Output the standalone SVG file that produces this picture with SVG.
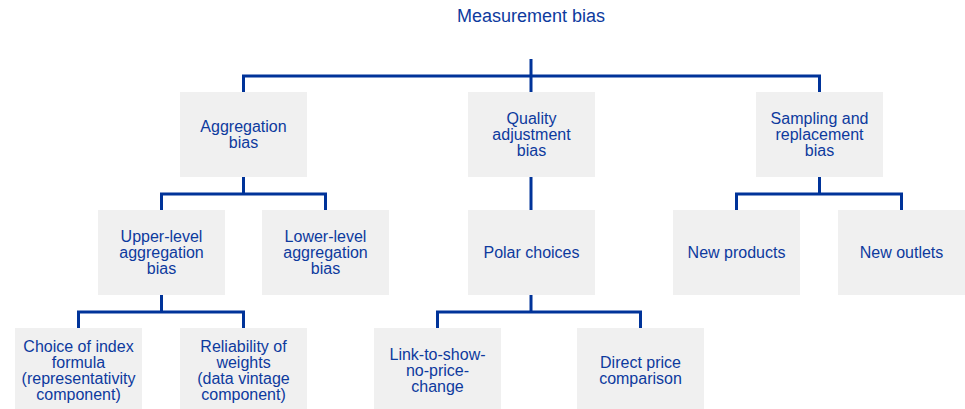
<svg xmlns="http://www.w3.org/2000/svg" width="965" height="409" viewBox="0 0 965 409">
<style>
.box{fill:#f0f0f0;stroke:none}
.t{font-family:"Liberation Sans",Arial,sans-serif;font-size:16px;fill:#0d3a9e;text-anchor:middle}
.title{font-size:18px}
.c{fill:none;stroke:#003399;stroke-width:3;stroke-linejoin:miter;stroke-linecap:butt}
</style>
<rect width="965" height="409" fill="#ffffff"/>
<g id="connectors">
<path class="c" d="M531,59 V92 M243.5,92 V76 H819.5 V92"/>
<path class="c" d="M243.5,177 V194 M161.5,210 V194 H325.5 V210"/>
<path class="c" d="M531,177 V210"/>
<path class="c" d="M819.5,177 V194 M736.5,210 V194 H901.5 V210"/>
<path class="c" d="M161.5,295 V312 M78.5,328 V312 H243.5 V328"/>
<path class="c" d="M531,295 V312 M437.5,328 V312 H640.5 V328"/>
</g>
<g id="measurement-bias">
<text class="t title" x="531" y="22">Measurement bias</text>
</g>
<g id="aggregation-bias">
<rect class="box" x="180" y="92" width="127" height="85"/>
<text class="t" x="243.5" y="131.5">Aggregation</text>
<text class="t" x="243.5" y="147.5">bias</text>
</g>
<g id="quality-adjustment-bias">
<rect class="box" x="468" y="92" width="127" height="85"/>
<text class="t" x="531.5" y="123.5">Quality</text>
<text class="t" x="531.5" y="139.5">adjustment</text>
<text class="t" x="531.5" y="155.5">bias</text>
</g>
<g id="sampling-replacement-bias">
<rect class="box" x="756" y="92" width="127" height="85"/>
<text class="t" x="819.5" y="123.5">Sampling and</text>
<text class="t" x="819.5" y="139.5">replacement</text>
<text class="t" x="819.5" y="155.5">bias</text>
</g>
<g id="upper-level">
<rect class="box" x="98" y="210" width="127" height="85"/>
<text class="t" x="161.5" y="241.5">Upper-level</text>
<text class="t" x="161.5" y="257.5">aggregation</text>
<text class="t" x="161.5" y="273.5">bias</text>
</g>
<g id="lower-level">
<rect class="box" x="262" y="210" width="127" height="85"/>
<text class="t" x="325.5" y="241.5">Lower-level</text>
<text class="t" x="325.5" y="257.5">aggregation</text>
<text class="t" x="325.5" y="273.5">bias</text>
</g>
<g id="polar-choices">
<rect class="box" x="468" y="210" width="127" height="85"/>
<text class="t" x="531.5" y="257.5">Polar choices</text>
</g>
<g id="new-products">
<rect class="box" x="673" y="210" width="127" height="85"/>
<text class="t" x="736.5" y="257.5">New products</text>
</g>
<g id="new-outlets">
<rect class="box" x="838" y="210" width="127" height="85"/>
<text class="t" x="901.5" y="257.5">New outlets</text>
</g>
<g id="choice-of-index">
<rect class="box" x="15" y="328" width="127" height="85"/>
<text class="t" x="78.5" y="351.5">Choice of index</text>
<text class="t" x="78.5" y="367.5">formula</text>
<text class="t" x="78.5" y="383.5">(representativity</text>
<text class="t" x="78.5" y="399.5">component)</text>
</g>
<g id="reliability-of-weights">
<rect class="box" x="180" y="328" width="127" height="85"/>
<text class="t" x="243.5" y="351.5">Reliability of</text>
<text class="t" x="243.5" y="367.5">weights</text>
<text class="t" x="243.5" y="383.5">(data vintage</text>
<text class="t" x="243.5" y="399.5">component)</text>
</g>
<g id="link-to-show">
<rect class="box" x="374" y="328" width="127" height="85"/>
<text class="t" x="437.5" y="359.5">Link-to-show-</text>
<text class="t" x="437.5" y="375.5">no-price-</text>
<text class="t" x="437.5" y="391.5">change</text>
</g>
<g id="direct-price">
<rect class="box" x="577" y="328" width="127" height="85"/>
<text class="t" x="640.5" y="367.5">Direct price</text>
<text class="t" x="640.5" y="383.5">comparison</text>
</g>
</svg>
